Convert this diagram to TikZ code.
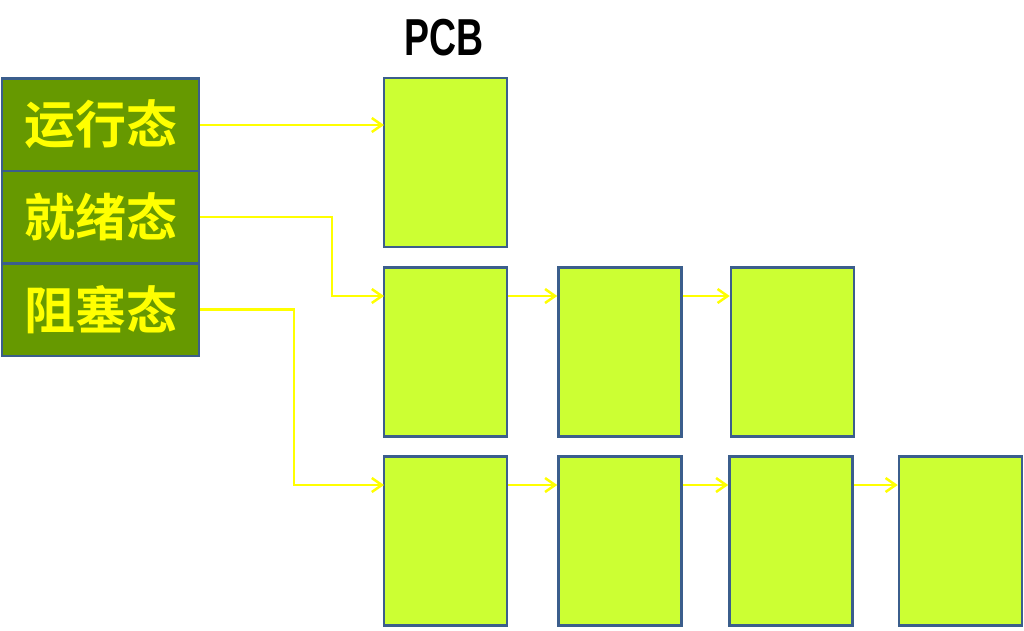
\documentclass[tikz,border=0pt]{standalone}
\usepackage{fontspec}
\newfontfamily\cjk{Noto Sans CJK SC}[BoldFont={Noto Sans CJK SC Bold}]
\setmainfont{Liberation Sans}
\usetikzlibrary{arrows.meta}
\definecolor{edgeblue}{HTML}{3B5E8C}
\definecolor{stategreen}{HTML}{669900}
\definecolor{pcbfill}{HTML}{CCFF33}
\definecolor{arrowyellow}{HTML}{FFFF00}
\begin{document}
\begin{tikzpicture}[x=1pt,y=-1pt,
  statebox/.style={draw=edgeblue,line width=2.5pt,fill=stategreen,minimum width=197pt,minimum height=92.5pt,inner sep=0pt,font=\cjk\bfseries\fontsize{51}{51}\selectfont,text=arrowyellow},
  pcb/.style={draw=edgeblue,line width=2.5pt,fill=pcbfill,minimum width=123pt,minimum height=169pt,inner sep=0pt},
  link/.style={draw=arrowyellow,line width=2.5pt,-{Straight Barb[length=10pt,width=14pt,line width=2.5pt]}}
]
\useasboundingbox (0,0) rectangle (1024,630);
\node[font=\bfseries\fontsize{52}{52}\selectfont,inner sep=0pt] (pcbl) at (444,38) {\scalebox{0.72}[1]{PCB}};
\node[statebox] (run) at (100.5,124.5) {运行态};
\node[statebox] (ready) at (100.5,217) {就绪态};
\node[statebox] (block) at (100.5,309.5) {阻塞态};
\node[pcb] (p1) at (445.5,162.5) {};
\node[pcb] (r1) at (445.5,352) {};
\node[pcb] (r2) at (620,352) {};
\node[pcb] (r3) at (792.5,352) {};
\node[pcb] (b1) at (445.5,541) {};
\node[pcb] (b2) at (620,541) {};
\node[pcb] (b3) at (791,541) {};
\node[pcb] (b4) at (960.5,541) {};
\coordinate (t1) at (384,125);
\coordinate (t2) at (384,296);
\coordinate (t3) at (384,485);
\draw[link] (run.east |- t1) -- (t1);
\draw[link] (ready.east) -- (332,217) -- (332,296) -- (t2);
\draw[link] (block.east) -- (294,309.5) -- (294,485) -- (t3);
\draw[link] (r1.east |- t2) -- (r2.west |- t2);
\draw[link] (r2.east |- t2) -- (r3.west |- t2);
\draw[link] (b1.east |- t3) -- (b2.west |- t3);
\draw[link] (b2.east |- t3) -- (b3.west |- t3);
\draw[link] (b3.east |- t3) -- (b4.west |- t3);
\end{tikzpicture}
\end{document}
